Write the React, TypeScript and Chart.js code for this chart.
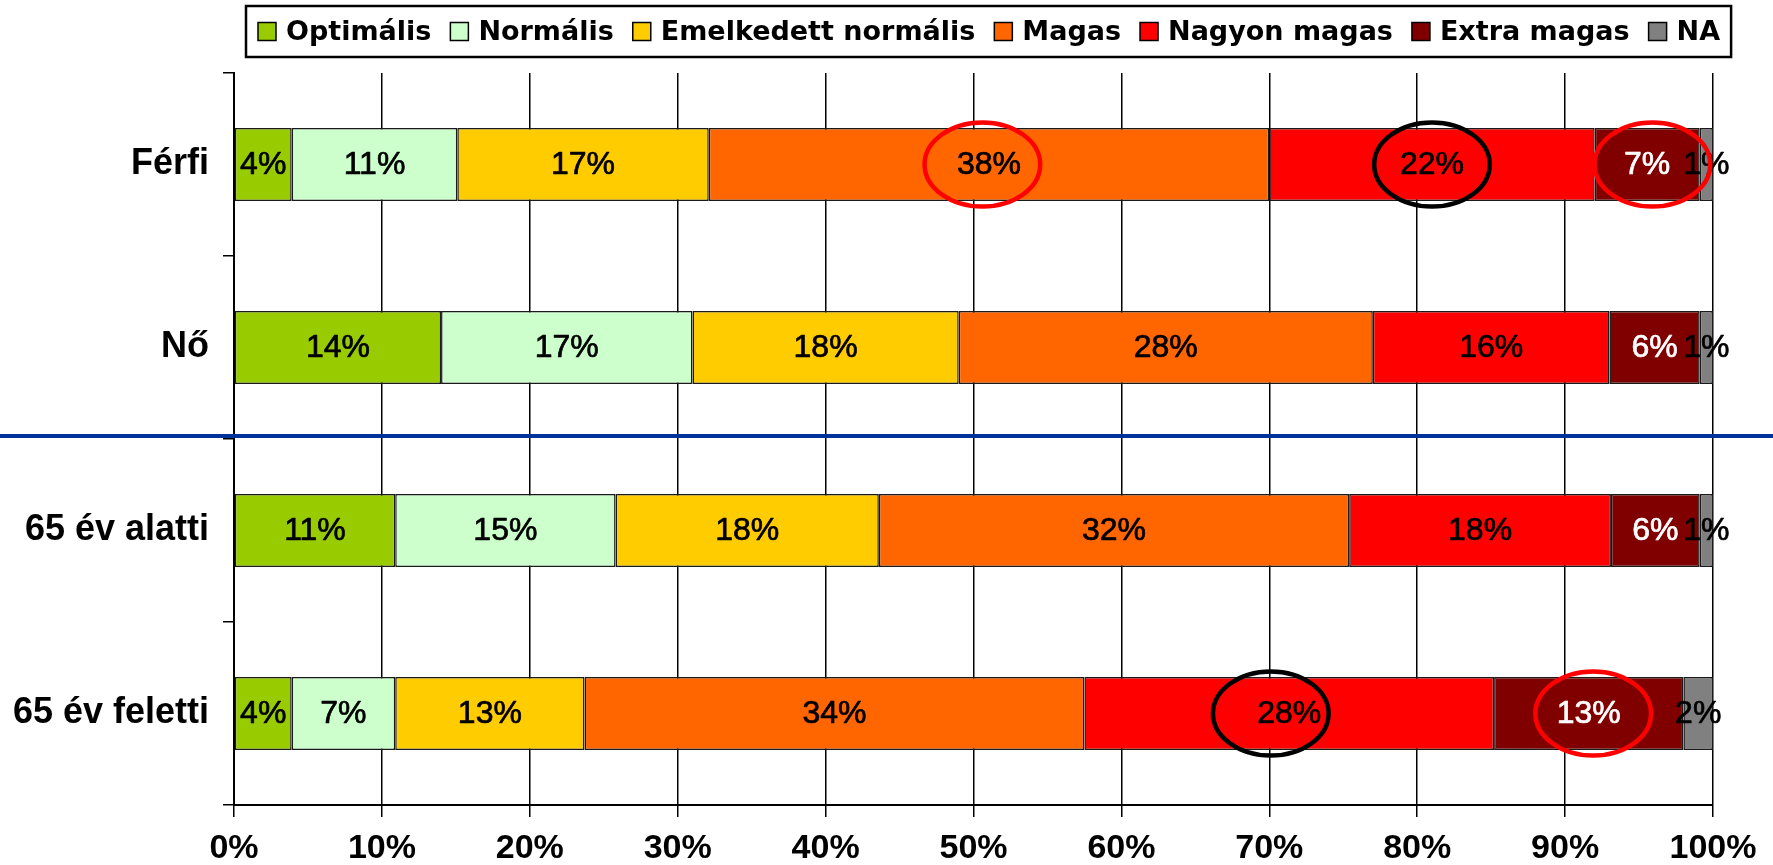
import React, { useEffect, useRef } from 'react';
import { Chart, registerables } from 'chart.js';

Chart.register(...registerables);

// ---------- data ----------
const categories = ['Férfi', 'Nő', '65 év alatti', '65 év feletti'];
const seriesNames = ['Optimális', 'Normális', 'Emelkedett normális', 'Magas', 'Nagyon magas', 'Extra magas', 'NA'];
const seriesColors = ['#99CC00', '#CCFFCC', '#FFCC00', '#FF6600', '#FF0000', '#800000', '#808080'];
const labelColors = ['#000000', '#000000', '#000000', '#000000', '#000000', '#FFFFFF', '#000000'];

const optimalis = [3.9, 14.0, 10.9, 3.9];
const normalis = [11.2, 17.0, 14.9, 7.0];
const emelkedettNormalis = [17.0, 18.0, 17.8, 12.8];
const magas = [37.9, 28.0, 31.8, 33.8];
const nagyonMagas = [22.0, 16.0, 17.7, 27.7];
const extraMagas = [7.1, 6.1, 6.0, 12.8];
const naValues = [0.9, 0.9, 0.9, 2.0];

const xTickValues = [0, 10, 20, 30, 40, 50, 60, 70, 80, 90, 100];

// highlighted (circled) spots: category index + value position on x axis
const highlightCategory = [0, 0, 0, 3, 3];
const highlightValue = [50.6, 81.0, 95.9, 70.1, 91.9];
const highlightColor = ['#FF0000', '#000000', '#FF0000', '#000000', '#FF0000'];

const seriesValues = [optimalis, normalis, emelkedettNormalis, magas, nagyonMagas, extraMagas, naValues];

// ---------- plugins ----------
const valueLabelPlugin = {
  id: 'valueLabels',
  afterDatasetsDraw(chart: any) {
    const ctx = chart.ctx;
    ctx.save();
    ctx.font = "32px 'Liberation Sans'";
    ctx.textAlign = 'center';
    ctx.textBaseline = 'middle';
    ctx.lineWidth = 0.7;
    ctx.lineJoin = 'round';
    chart.data.datasets.forEach((ds: any, i: number) => {
      const meta = chart.getDatasetMeta(i);
      meta.data.forEach((el: any, j: number) => {
        const v = ds.data[j] as number;
        const text = Math.round(v) + '%';
        const x = (el.x + el.base) / 2;
        const y = el.y + 1;
        ctx.fillStyle = labelColors[i];
        ctx.strokeStyle = labelColors[i];
        ctx.fillText(text, x, y);
        ctx.strokeText(text, x, y);
      });
    });
    ctx.restore();
  },
};

const legendPlugin = {
  id: 'boxedLegend',
  afterDraw(chart: any) {
    const ctx = chart.ctx;
    const area = chart.chartArea;
    ctx.save();
    ctx.font = "bold 27px 'DejaVu Sans'";
    ctx.textAlign = 'left';
    ctx.textBaseline = 'middle';
    const box = 18;
    const gap = 10;
    const itemGap = 19;
    const cy = 31.5;
    const startX = area.left + 24;
    let x = startX;
    chart.data.datasets.forEach((ds: any) => {
      ctx.fillStyle = ds.backgroundColor;
      ctx.fillRect(x, cy - box / 2, box, box);
      ctx.strokeStyle = '#000';
      ctx.lineWidth = 1.5;
      ctx.strokeRect(x, cy - box / 2, box, box);
      x += box + gap;
      ctx.fillStyle = '#000';
      ctx.fillText(ds.label, x, cy + 1);
      x += ctx.measureText(ds.label).width + itemGap;
    });
    const endX = x - itemGap;
    ctx.strokeStyle = '#000';
    ctx.lineWidth = 2.5;
    ctx.strokeRect(startX - 12, 6, endX - startX + 23, 51);
    ctx.restore();
  },
};

const annotationPlugin = {
  id: 'annotations',
  afterDraw(chart: any) {
    const ctx = chart.ctx;
    const xs = chart.scales.x;
    const ys = chart.scales.y;
    ctx.save();
    // separator line between gender and age groups
    const sepY = (ys.getPixelForValue(1) + ys.getPixelForValue(2)) / 2 - 3;
    ctx.strokeStyle = '#003399';
    ctx.lineWidth = 4;
    ctx.beginPath();
    ctx.moveTo(0, sepY);
    ctx.lineTo(chart.width, sepY);
    ctx.stroke();
    // circles
    const bar = chart.getDatasetMeta(0).data[0] as any;
    const h = bar.height;
    highlightValue.forEach((v, i) => {
      const cx = xs.getPixelForValue(v);
      const cy = ys.getPixelForValue(highlightCategory[i]);
      ctx.strokeStyle = highlightColor[i];
      ctx.lineWidth = 4.5;
      ctx.beginPath();
      ctx.ellipse(cx, cy, h * 0.79, h * 0.575, 0, 0, Math.PI * 2);
      ctx.stroke();
    });
    ctx.restore();
  },
};

export default function App() {
  const canvasRef = useRef<HTMLCanvasElement | null>(null);

  useEffect(() => {
    if (!canvasRef.current) return;
    Chart.defaults.font.family = "'Liberation Sans', Arial, sans-serif";
    const xTickFont = { family: "'Liberation Sans'", weight: 'bold' as const, size: 34, lineHeight: 1 };
    const yTickFont = { family: "'Liberation Sans'", weight: 'bold' as const, size: 36, lineHeight: 1 };
    const chart = new Chart(canvasRef.current, {
      type: 'bar',
      data: {
        labels: categories,
        datasets: seriesNames.map((name, i) => ({
          label: name,
          data: seriesValues[i],
          backgroundColor: seriesColors[i],
          borderColor: '#1a1a1a',
          borderWidth: 1.5,
          borderSkipped: false,
          categoryPercentage: 1,
          barPercentage: 0.4,
        })),
      },
      options: {
        indexAxis: 'y',
        animation: false,
        responsive: true,
        maintainAspectRatio: false,
        layout: { padding: { top: 73, right: 60, bottom: 0, left: 0 } },
        plugins: {
          legend: { display: false },
          tooltip: { enabled: false },
        },
        scales: {
          x: {
            stacked: true,
            min: 0,
            max: 100,
            afterBuildTicks: (s: any) => {
              s.ticks = xTickValues.map((v) => ({ value: v }));
            },
            afterFit: (s: any) => {
              s.height = 60;
            },
            ticks: {
              callback: (v: any) => v + '%',
              font: xTickFont,
              color: '#000',
              padding: 15,
              maxRotation: 0,
              autoSkip: false,
            },
            grid: { color: '#000', lineWidth: 1.5, tickLength: 12, drawTicks: true },
            border: { color: '#000', width: 2 },
          },
          y: {
            stacked: true,
            afterFit: (s: any) => {
              s.width = 234;
            },
            ticks: { font: yTickFont, color: '#000', padding: 14 },
            grid: { drawOnChartArea: false, color: '#000', lineWidth: 1.5, tickLength: 11, offset: true },
            border: { color: '#000', width: 2 },
          },
        },
      },
      plugins: [valueLabelPlugin, annotationPlugin, legendPlugin],
    });
    return () => chart.destroy();
  }, []);

  return (
    <div style={{ position: 'fixed', left: 0, top: 0, width: '1773px', height: '865px', background: '#fff' }}>
      <canvas ref={canvasRef} />
    </div>
  );
}
